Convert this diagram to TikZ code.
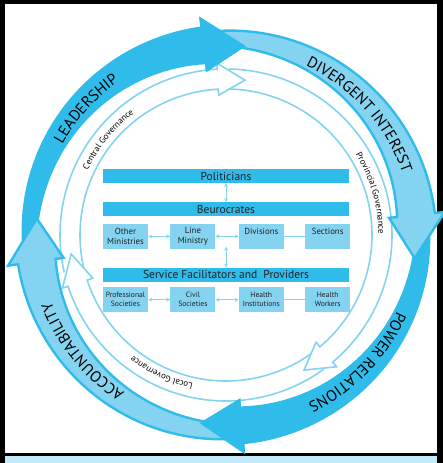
\documentclass[tikz,border=0pt]{standalone}
\usepackage{fontspec}
\setmainfont{PT Sans}
\usepackage{tikz}
\usetikzlibrary{positioning,arrows,decorations.text}
\definecolor{skyblue}{HTML}{30BCEA}
\definecolor{paleblue}{HTML}{84D3F1}
\definecolor{stripblue}{HTML}{C4EAF8}
\definecolor{inkgrey}{HTML}{231F20}
\newcommand{\ringfont}{\fontsize{15.5}{15.5}\selectfont}
\newcommand{\govfont}{\fontsize{8.8}{8.8}\selectfont}
\newcommand{\bandarrow}[3]{\path[#3] plot[domain=0:1,samples=40] ({(#1)+((#2)-(#1))*\x}:{204+6*\x})
    -- (#2:220) -- ({(#2)-13}:190) -- (#2:164)
    -- plot[domain=0:1,samples=40] ({(#2)+((#1)-(#2))*\x}:{172+18*\x}) -- cycle;}
\newcommand{\bandhead}[2]{\fill[#2] (#1:220) -- ({(#1)-13}:190) -- (#1:164) -- cycle;}
\newcommand{\ringarrow}[3]{\draw[hollow] (#1:166) arc[start angle=#1,end angle=#2,radius=166]
    -- (#2:172) -- (#3:156) -- (#2:140) -- (#2:146) arc[start angle=#2,end angle=#1,radius=146];}
\newcommand{\arclabel}[5]{\path[decorate,color=inkgrey,decoration={text along path,text align=center,text={|#4|#5}}]
    (#1:#3) arc[start angle=#1,end angle=#2,radius=#3];}
\tikzset{bar/.style={fill=skyblue,minimum width=246pt,minimum height=14pt,inner sep=0pt,text=inkgrey,font=\fontsize{11.5}{11.5}\selectfont}}
\tikzset{rowbox/.style={fill=paleblue,minimum width=45pt,minimum height=25pt,inner sep=0pt,align=center,text=inkgrey,font=\fontsize{8.8}{9.6}\selectfont}}
\tikzset{smallbox/.style={rowbox,font=\fontsize{7.6}{9}\selectfont}}
\tikzset{link/.style={<->,>=stealth,draw=paleblue,line width=0.8pt}}
\tikzset{hollow/.style={draw=paleblue,line width=1.6pt,line join=miter}}
\tikzset{lightband/.style={fill=paleblue,draw=skyblue,line width=2.4pt,line join=miter}}

\begin{document}
\begin{tikzpicture}[x=1pt,y=1pt]
    \useasboundingbox (0,0) rectangle (443,-463);
    \fill[black] (0,0) rectangle (5,-463);
    \fill[black] (0,0) rectangle (443,-4);
    \fill[black] (437,0) rectangle (443,-463);
    \fill[black] (5,-453) rectangle (437,-456);
    \fill[stripblue] (5,-456) rectangle (437,-463);

    \begin{scope}[shift={(226,-235)}]
        % governance rings
        \ringarrow{193}{93}{83}
        \ringarrow{89}{-50}{-60}
        \ringarrow{-54}{-162}{-173}

        % outer cycle
        \bandarrow{187}{97}{fill=skyblue}
        \bandarrow{5}{-85}{fill=skyblue}
        \bandarrow{96}{6}{lightband}
        \bandarrow{-86}{-172}{lightband}
        \bandhead{97}{skyblue}
        \bandhead{-85}{skyblue}

        \arclabel{178}{98}{187}{\ringfont}{LEADERSHIP}
        \arclabel{82}{2}{187}{\ringfont}{DIVERGENT INTEREST}
        \arclabel{-4}{-84}{187}{\ringfont}{POWER RELATIONS}
        \arclabel{259}{179}{187}{\ringfont}{ACCOUNTABILITY}

        \arclabel{176}{106}{152.5}{\govfont}{Central Governance}
        \arclabel{51}{-19}{152.5}{\govfont}{Provincial Governance}
        \arclabel{-80}{-150}{152.5}{\govfont}{Local Governance}
    \end{scope}

    \node[bar] (politicians) at (226,-176) {Politicians};
    \node[bar,below=19pt of politicians] (beurocrates) {Beurocrates};
    \node[rowbox,below=7pt of beurocrates.south west,anchor=north west] (other) {Other\\Ministries};
    \node[rowbox,right=22pt of other] (lineministry) {Line\\Ministry};
    \node[rowbox,right=23pt of lineministry,text depth=10pt] (divisions) {Divisions};
    \node[rowbox,right=21pt of divisions,text depth=10pt] (sections) {Sections};
    \node[bar,below=51pt of beurocrates] (service) {Service Facilitators and\ \ Providers};
    \node[smallbox,below=5pt of service.south west,anchor=north west] (professional) {Professional\\Societies};
    \node[smallbox,right=22pt of professional] (civil) {Civil\\Societies};
    \node[smallbox,right=23pt of civil] (institutions) {Health\\Institutions};
    \node[smallbox,right=21pt of institutions] (workers) {Health\\Workers};
    \coordinate (split) at ([yshift=-30pt]beurocrates.south);

    \draw[link] (politicians) -- (beurocrates);
    \draw[link] (other) -- (lineministry);
    \draw[link] (lineministry) -- (divisions);
    \draw[link,-] (divisions) -- (sections);
    \draw[link] (split) -- (service);
    \draw[link] (professional) -- (civil);
    \draw[link] (civil) -- (institutions);
    \draw[link,-] (institutions) -- (workers);
\end{tikzpicture}
\end{document}
